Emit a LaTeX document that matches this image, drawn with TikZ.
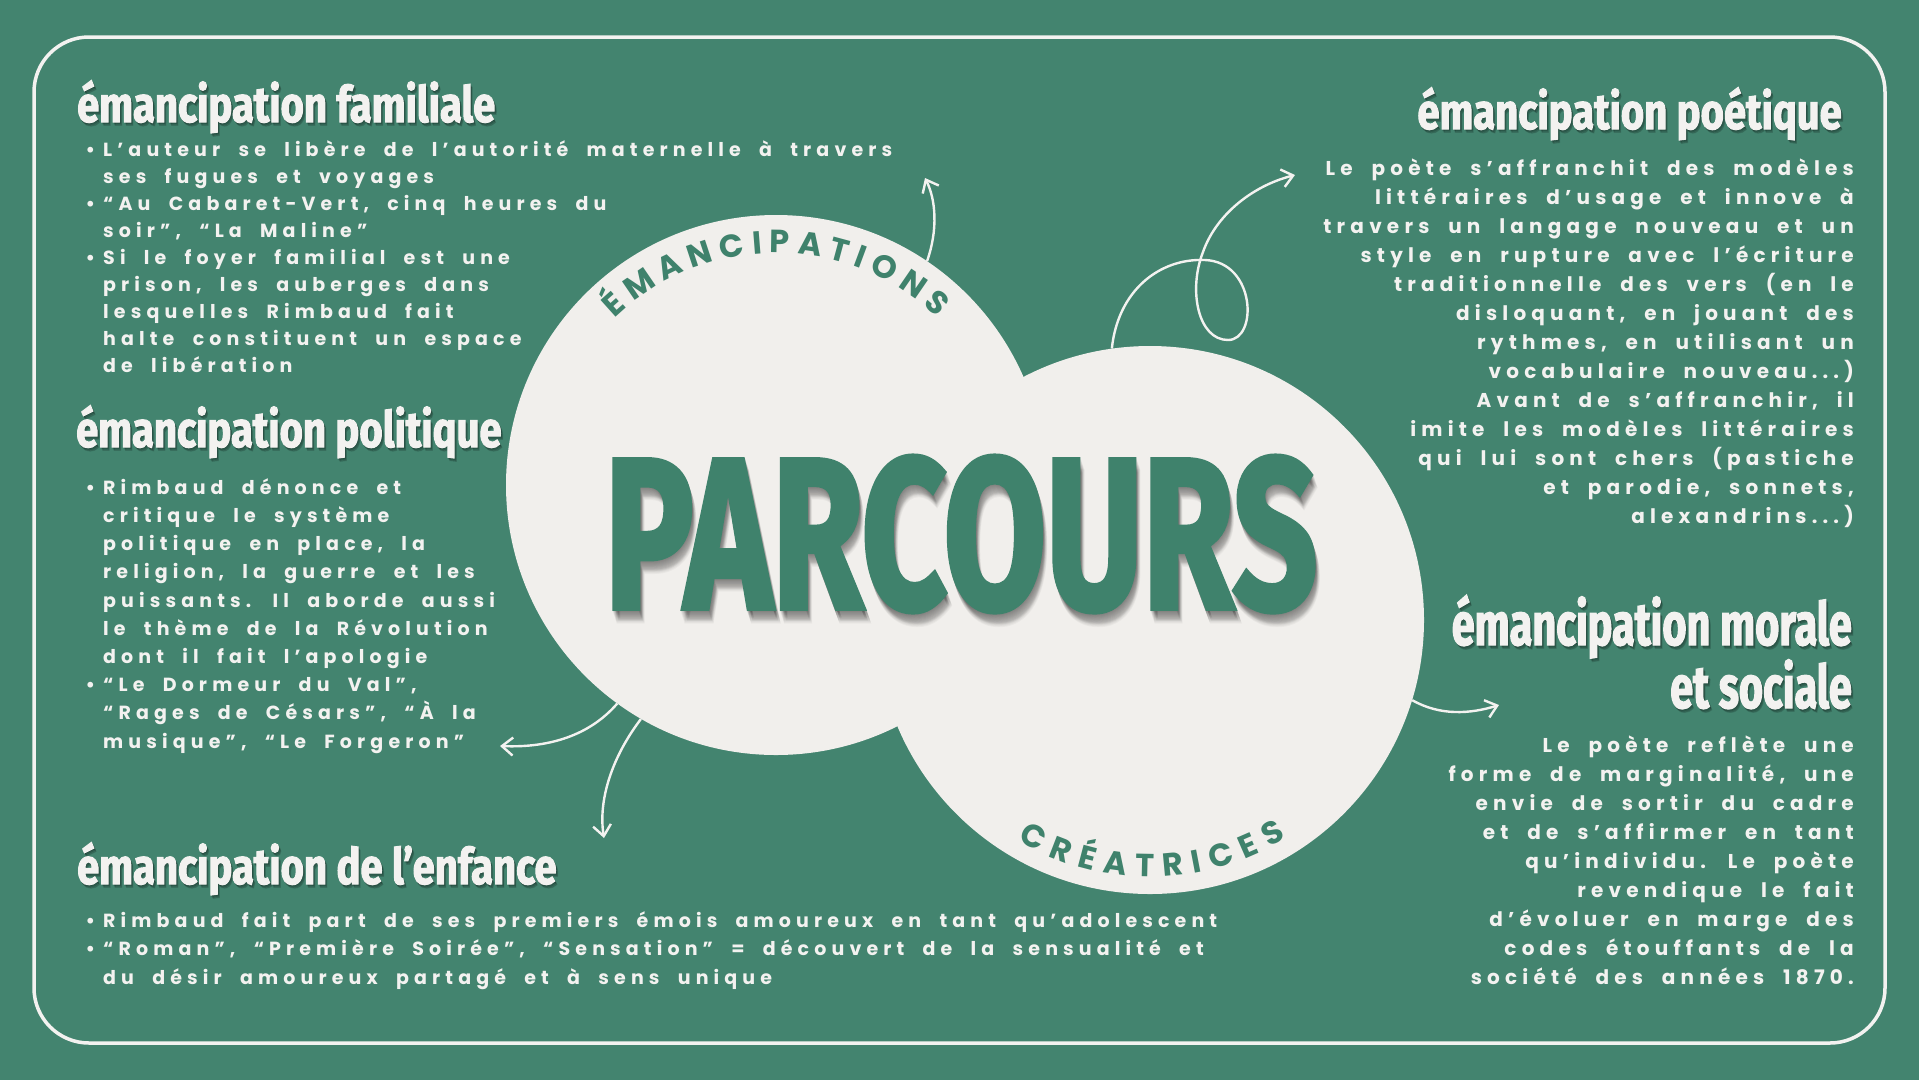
\documentclass[tikz,border=0pt]{standalone}
\usepackage{fontspec}
\usepackage{graphicx}
\usetikzlibrary{arrows.meta,decorations.text}

\setmainfont{Poppins}
\newfontfamily\bodyfont[LetterSpace=27,WordSpace=2.0]{Poppins}
\newfontfamily\sidefont[LetterSpace=26,WordSpace=2.0]{Poppins}
\newfontfamily\ringfont{Poppins}
\newfontfamily\titlefont[FakeStretch=0.80,FakeBold=2]{Fira Sans}
\newfontfamily\moralfont[FakeStretch=0.69,FakeBold=2]{Fira Sans}
\newfontfamily\bigfont[FakeBold=2.5]{Fira Sans}

\definecolor{bggreen}{RGB}{67,132,111}
\definecolor{paper}{RGB}{241,239,236}
\definecolor{inkgreen}{RGB}{63,130,108}
\definecolor{chalk}{RGB}{243,242,240}

% heading with a soft shadow: name, anchor, position, style, text
\newcommand\shadehead[5]{%
  \foreach \s in {1,2,3}
    \node[#4,text=black,text opacity=0.12,anchor=#2,xshift=\s*0.7pt,yshift=-\s*1.1pt] at (#3) {#5};
  \node[#4,anchor=#2] (#1) at (#3) {#5};}
\newcommand\bigword{\resizebox{712pt}{152pt}{\bigfont\bfseries PARCOURS}}
\newcommand\itm{\llap{\textbullet\hspace{8pt}}}

\begin{document}
\begin{tikzpicture}[x=1pt,y=-1pt,
  headtext/.style={text=chalk,inner sep=0pt,align=right,
    font=\titlefont\bfseries\fontsize{50}{56}\selectfont},
  bighead/.style={headtext,font=\moralfont\bfseries\fontsize{60}{56}\selectfont},
  bodyleft/.style={text=chalk,inner sep=0pt,align=left,
    font=\bodyfont\bfseries\fontsize{19}{27}\selectfont},
  bodyright/.style={bodyleft,align=right,font=\sidefont\bfseries\fontsize{20}{29}\selectfont},
  bubble/.style={circle,fill=paper,inner sep=0pt},
  link/.style={draw=chalk,line width=2.4pt,-{Straight Barb[length=11pt,width=18pt]}},
  ringtext/.style={decorate,decoration={text along path,text align={fit to path},
    text={|\ringfont\bfseries\fontsize{32}{32}\selectfont\color{inkgreen}|#1}}}]

  \fill[bggreen] (0,0) rectangle (1919,1080);
  \useasboundingbox (0,0) rectangle (1919,1080);
  \draw[chalk,line width=3.5pt,rounded corners=55pt] (34,37) rectangle (1885,1043);

  % the two bubbles
  \node[bubble,minimum size=540pt] (c1) at (776,485) {};
  \node[bubble,minimum size=548pt] (c2) at (1150,620) {};
  \path[ringtext=ÉMANCIPATIONS] (c1.center) ++(226:232) arc[start angle=226,end angle=314,radius=232];
  \path[ringtext=CRÉATRICES] (c2.center) ++(121:257) arc[start angle=121,end angle=58,radius=257];

  \foreach \d in {1,...,14}
    \node[text=black,text opacity=0.03,inner sep=0pt,xshift=\d*0.3pt,yshift=-\d*0.9pt] at (961,534) {\bigword};
  \node[text=inkgreen,inner sep=0pt] (title) at (961,534) {\bigword};

  % arrow tips
  \coordinate (tipA) at (925,178);
  \coordinate (tipB) at (1295,175);
  \coordinate (tipC) at (500,746);
  \coordinate (tipD) at (604,838);
  \coordinate (tipE) at (1499,705);

  \draw[link] (c1.56) .. controls (938,230) and (936,200) .. (tipA);
  \draw[link] (c2.98) .. controls (1118,290) and (1160,258) .. (1205,260)
    .. controls (1256,262) and (1258,340) .. (1228,340)
    .. controls (1198,340) and (1188,290) .. (1203,252)
    .. controls (1216,215) and (1252,186) .. (tipB);
  \draw[link] (c1.234) .. controls (590,735) and (550,748) .. (tipC);
  \draw[link] (c1.240) .. controls (612,757) and (598,800) .. (tipD);
  \draw[link] (c2.343) .. controls (1440,716) and (1470,714) .. (tipE);

  % headings
  \shadehead{famh}{base west}{77,122}{headtext}{émancipation familiale}
  \shadehead{polh}{base west}{76,447}{headtext}{émancipation politique}
  \shadehead{enfh}{base west}{77,884}{headtext}{émancipation de l’enfance}
  \shadehead{poeh}{base east}{1842,129}{headtext}{émancipation poétique}
  \shadehead{morh}{base east}{1852,708}{bighead}{émancipation morale\\et sociale}

  % texts (base = last line)
  \node[bodyleft,anchor=base west] (famt) at (103,372) {\itm L’auteur se libère de l’autorité maternelle à travers\\
    ses fugues et voyages\\
    \itm “Au Cabaret-Vert, cinq heures du\\
    soir”, “La Maline”\\
    \itm Si le foyer familial est une\\
    prison, les auberges dans\\
    lesquelles Rimbaud fait\\
    halte constituent un espace\\
    de libération};
  \node[bodyleft,anchor=base west,font=\bodyfont\bfseries\fontsize{19}{28.2}\selectfont] (polt) at (103,748) {\itm Rimbaud dénonce et\\
    critique le système\\
    politique en place, la\\
    religion, la guerre et les\\
    puissants. Il aborde aussi\\
    le thème de la Révolution\\
    dont il fait l’apologie\\
    \itm “Le Dormeur du Val”,\\
    “Rages de Césars”, “À la\\
    musique”, “Le Forgeron”};
  \node[bodyleft,anchor=base west,font=\bodyfont\bfseries\fontsize{19}{28.2}\selectfont] (enft) at (103,984) {\itm Rimbaud fait part de ses premiers émois amoureux en tant qu’adolescent\\
    \itm “Roman”, “Première Soirée”, “Sensation” = découvert de la sensualité et\\
    du désir amoureux partagé et à sens unique};
  \node[bodyright,anchor=base east] (poet) at (1854,523) {Le poète s’affranchit des modèles\\
    littéraires d’usage et innove à\\
    travers un langage nouveau et un\\
    style en rupture avec l’écriture\\
    traditionnelle des vers (en le\\
    disloquant, en jouant des\\
    rythmes, en utilisant un\\
    vocabulaire nouveau...)\\
    Avant de s’affranchir, il\hspace*{14pt}\\
    imite les modèles littéraires\\
    qui lui sont chers (pastiche\\
    et parodie, sonnets,\hspace*{14pt}\\
    alexandrins...)};
  \node[bodyright,anchor=base east] (mort) at (1854,984) {Le poète reflète une\\
    forme de marginalité, une\\
    envie de sortir du cadre\\
    et de s’affirmer en tant\\
    qu’individu. Le poète\\
    revendique le fait\\
    d’évoluer en marge des\\
    codes étouffants de la\\
    société des années 1870.};
\end{tikzpicture}
\end{document}
